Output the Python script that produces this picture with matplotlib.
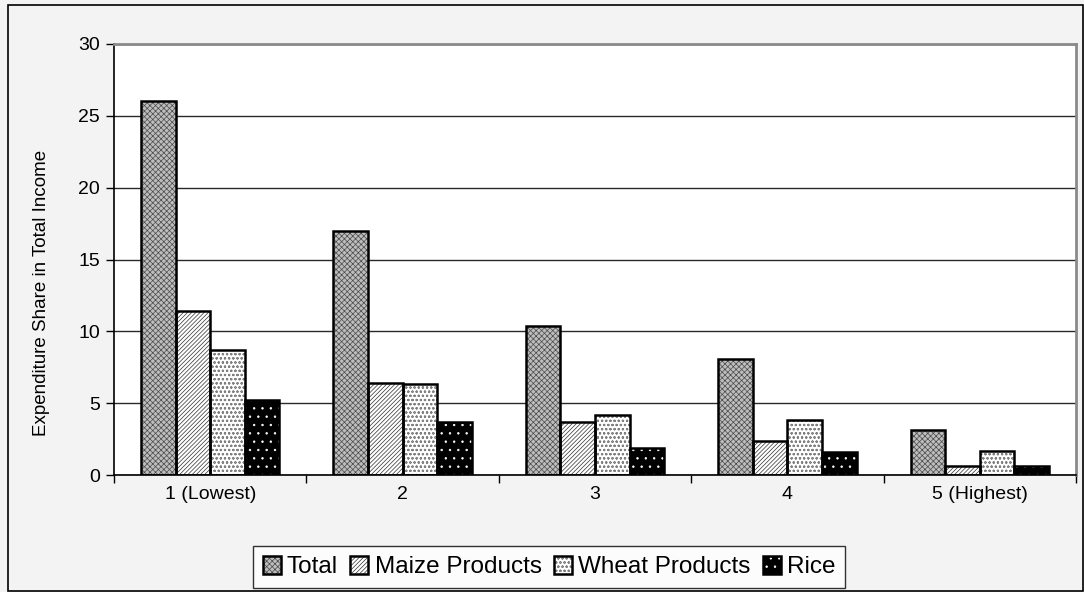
"""
Expenditure share in total income by income quintile, grouped bar chart
with Excel-style hatch fills.
"""
import numpy as np
import matplotlib.pyplot as plt
from matplotlib.patches import Rectangle
from matplotlib.legend_handler import HandlerTuple

plt.rcParams['font.family'] = ['Liberation Sans', 'DejaVu Sans']
plt.rcParams['hatch.linewidth'] = 0.5

# data
quintiles = ['1 (Lowest)', '2', '3', '4', '5 (Highest)']
series_names = ['Total', 'Maize Products', 'Wheat Products', 'Rice']
total = [26.0, 17.0, 10.4, 8.1, 3.1]
maize = [11.4, 6.4, 3.7, 2.4, 0.6]
wheat = [8.7, 6.3, 4.2, 3.8, 1.7]
rice = [5.2, 3.7, 1.9, 1.6, 0.6]

# fill styles: (face colour, hatch colour, hatch)
styles = [('#bdbdbd', '#4a4a4a', 'xxxxxx'),
          ('white', '#303030', '////////'),
          ('white', '#808080', 'oooo'),
          ('black', 'white', '..')]

fig = plt.figure(figsize=(10.84, 5.92), dpi=100, facecolor='#f3f3f3')
ax = fig.add_axes([114/1084, 117/592, 962/1084, 431/592])
ax.set_facecolor('white')

x = np.arange(len(quintiles))
width = 0.18
handles = []
for i, (vals, (face, hcol, hatch)) in enumerate(zip([total, maize, wheat, rice], styles)):
    pos = x + (i - 1.5) * width
    fill = ax.bar(pos, vals, width, color=face, edgecolor=hcol, hatch=hatch,
                  linewidth=0, zorder=2)
    edge = ax.bar(pos, vals, width, fill=False, edgecolor='black',
                  linewidth=1.8, zorder=3)
    handles.append((fill, edge))

ax.set_xlim(-0.5, 4.5)
ax.set_ylim(0, 30)
ax.set_yticks(range(0, 31, 5))
ax.set_xticks(x)
ax.set_xticklabels(quintiles)
ax.set_xticks(np.arange(-0.5, 4.6, 1), minor=True)
ax.tick_params(axis='x', which='major', length=0, pad=8, labelsize=14)
ax.tick_params(axis='x', which='minor', length=6, direction='out', width=1)
ax.tick_params(axis='y', length=6, direction='out', width=1, labelsize=14, pad=4)
ax.yaxis.grid(True, color='#2a2a2a', linewidth=1, zorder=0)
ax.set_axisbelow(True)
ax.set_ylabel('Expenditure Share in Total Income', fontsize=13.5)
ax.yaxis.set_label_coords(-0.067, 0.422)

for side in ['top', 'right']:
    ax.spines[side].set_color('#8a8a8a')
    ax.spines[side].set_linewidth(2)
for side in ['left', 'bottom']:
    ax.spines[side].set_linewidth(1.2)

leg = fig.legend(handles, series_names, loc='center', bbox_to_anchor=(549/1084, 1 - 567/592),
                 ncol=4, fontsize=17.5, frameon=True, fancybox=False, edgecolor='black',
                 handlelength=0.75, handleheight=0.75, handletextpad=0.25, columnspacing=0.5,
                 borderpad=0.4, borderaxespad=0, handler_map={tuple: HandlerTuple(ndivide=1)})
leg.get_frame().set_facecolor('white')
leg.get_frame().set_linewidth(1)

# outer chart border
fig.patches.append(Rectangle((8/1084, 1/592), 1075/1084, 586/592, transform=fig.transFigure,
                             fill=False, edgecolor='black', linewidth=1.2))

plt.savefig('out.png', dpi=100)
plt.close()
